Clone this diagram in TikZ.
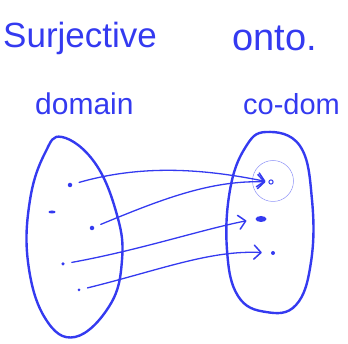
\documentclass[tikz,border=0pt]{standalone}
\usepackage{fontspec}
\setmainfont{Liberation Sans}
\usetikzlibrary{arrows.meta,positioning,shapes.geometric}
\definecolor{pen}{RGB}{52,58,240}
\tikzset{
  ink/.style={draw=pen, line width=2.4pt, line cap=round, line join=round},
  thinink/.style={draw=pen, line width=1.3pt, line cap=round, line join=round},
  maparr/.style={thinink, shorten <=7pt, -{Straight Barb[length=7pt,width=14pt,line width=1.5pt,round]}},
  elt/.style={circle, fill=pen, inner sep=0pt, minimum size=4.5pt},
  word/.style={text=pen, anchor=west, inner sep=0pt},
  every picture/.append style={x=1pt, y=-1pt}
}
\begin{document}
\begin{tikzpicture}
  \useasboundingbox (0,0) rectangle (348,344);
  % headings
  \node[word, font=\fontsize{35}{35}\selectfont] (surj) at (3,38) {Surjective};
  \node[word, font=\fontsize{38}{38}\selectfont] (onto) at (232,38) {onto.};
  \node[word, font=\fontsize{30}{30}\selectfont] (dom) at (35,104) {domain};
  \node[word, font=\fontsize{29}{29}\selectfont] (codom) at (243,104) {co-dom};
  % sets
  \draw[ink] plot[smooth cycle, tension=0.7] coordinates {(62,137) (95,163) (117,215) (122,260) (110,305) (75,337) (45,318) (28,262) (30,200) (45,153)};
  \draw[ink] plot[smooth cycle, tension=0.7] coordinates {(266,132) (300,146) (312,200) (311,262) (296,305) (266,312) (238,296) (227,250) (230,190) (245,148)};
  % elements of the domain
  \node[elt] (a1) at (70,185) {};
  \node[elt, ellipse, minimum width=7pt, minimum height=3pt] (a2) at (52,212) {};
  \node[elt] (a3) at (92,228) {};
  \node[elt, minimum size=3.5pt] (a4) at (63,264) {};
  \node[elt, minimum size=3pt] (a5) at (79,290) {};
  % elements of the co-domain
  \node[circle, draw=pen, line width=1pt, inner sep=1.5pt] (b1) at (271,182) {};
  \node[elt, ellipse, minimum width=11pt, minimum height=6pt] (b2) at (261,219) {};
  \node[elt, minimum size=4pt] (b3) at (273,253) {};
  \node[circle, draw=pen!55, line width=0.5pt, minimum size=41pt] (hit) at (273,181) {};
  % the map
  \draw[maparr, shorten >=3pt] (a1) .. controls (140,165) and (200,168) .. (b1.west);
  \draw[maparr, shorten >=3pt] (a3) .. controls (160,200) and (210,180) .. (b1.west);
  \draw[maparr, shorten >=9pt] (a4) .. controls (140,250) and (200,230) .. (b2.west);
  \draw[maparr, shorten >=9pt] (a5) .. controls (160,270) and (210,250) .. (b3.west);
\end{tikzpicture}
\end{document}
